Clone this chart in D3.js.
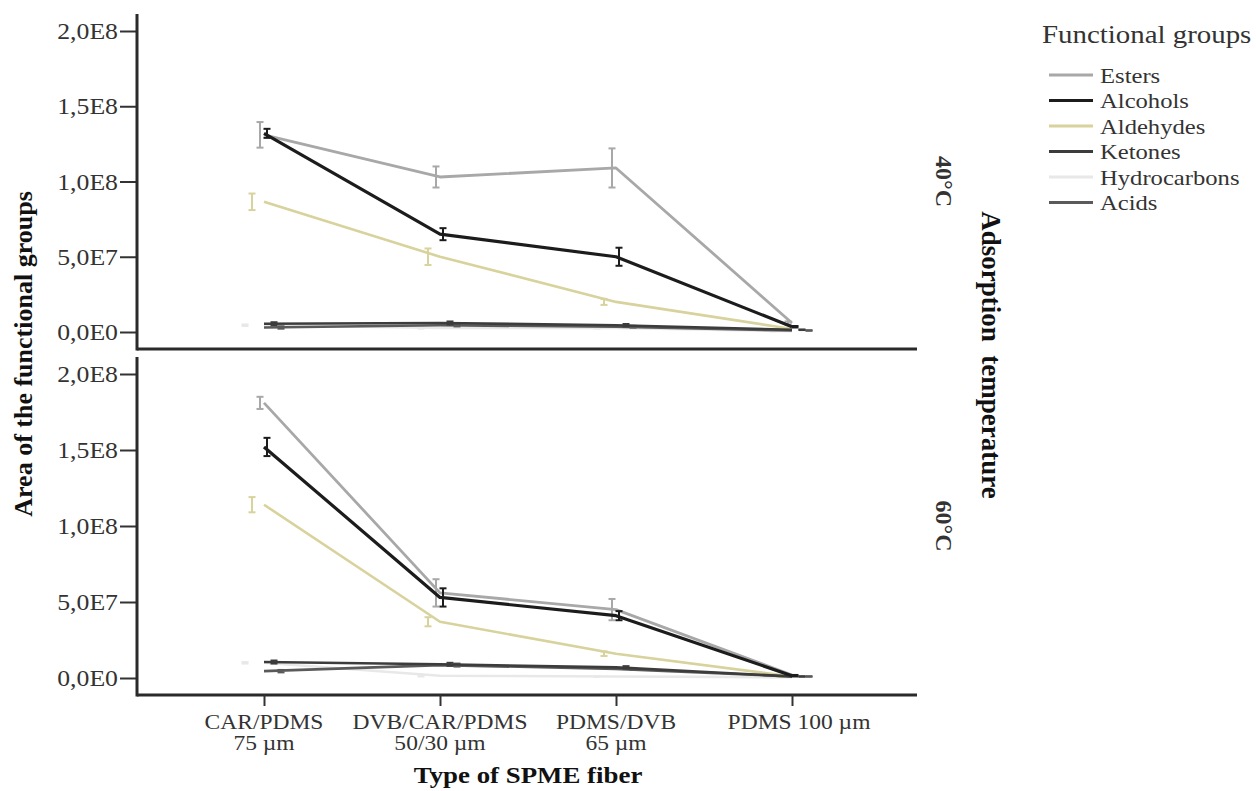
<!DOCTYPE html>
<html>
<head>
<meta charset="utf-8">
<script src="https://cdn.jsdelivr.net/npm/d3@7"></script>
<style>
  body { margin: 0; background: #fff; }
  text { font-family: "Liberation Serif", "Times New Roman", serif; fill: #333; }
</style>
</head>
<body>
<svg width="1256" height="791"></svg>
<script>
// fibers on the x axis (two lines each)
const fibers     = ["CAR/PDMS", "DVB/CAR/PDMS", "PDMS/DVB", "PDMS 100 µm"];
const fiberSub   = ["75 µm", "50/30 µm", "65 µm", ""];
const yTicks     = [0, 5e7, 1e8, 1.5e8, 2e8];
const yTickText  = ["0,0E0", "5,0E7", "1,0E8", "1,5E8", "2,0E8"];
const panels     = ["40°C", "60°C"];
const groups     = ["Esters", "Alcohols", "Aldehydes", "Ketones", "Hydrocarbons", "Acids"];
const colors     = ["#a8a8a8", "#1c1c1c", "#d8d29c", "#3c3c3c", "#e8e8e8", "#5a5a5a"];
const widths     = [2.8, 3.2, 2.6, 2.6, 2.6, 2.6];
const dodge      = [-4, 3, -12, 10, -19, 17];

// 40°C  (mean areas per fiber)
const esters40   = [1.31e8, 1.03e8, 1.09e8, 0.6e7];
const alcohols40 = [1.32e8, 0.65e8, 0.50e8, 0.35e7];
const aldehyd40  = [0.865e8, 0.50e8, 0.20e8, 0.2e7];
const ketones40  = [0.55e7, 0.6e7, 0.45e7, 0.15e7];
const hydroc40   = [0.45e7, 0.27e7, 0.27e7, 0.05e7];
const acids40    = [0.3e7, 0.45e7, 0.35e7, 0.1e7];
// 40°C error (+/-)
const estersE40   = [0.85e7, 0.7e7, 1.3e7, 0.1e7];
const alcoholsE40 = [0.3e7, 0.4e7, 0.6e7, 0.05e7];
const aldehydE40  = [0.55e7, 0.55e7, 0.2e7, 0.03e7];
const ketonesE40  = [0.1e7, 0.1e7, 0.08e7, 0.02e7];
const hydrocE40   = [0.05e7, 0.05e7, 0.05e7, 0.01e7];
const acidsE40    = [0.08e7, 0.08e7, 0.06e7, 0.02e7];

// 60°C
const esters60   = [1.81e8, 0.56e8, 0.45e8, 0.2e7];
const alcohols60 = [1.52e8, 0.53e8, 0.41e8, 0.15e7];
const aldehyd60  = [1.14e8, 0.37e8, 0.16e8, 0.1e7];
const ketones60  = [1.05e7, 0.9e7, 0.7e7, 0.1e7];
const hydroc60   = [1.0e7, 0.15e7, 0.1e7, 0.05e7];
const acids60    = [0.45e7, 0.85e7, 0.6e7, 0.1e7];
const estersE60   = [0.4e7, 0.9e7, 0.7e7, 0.05e7];
const alcoholsE60 = [0.6e7, 0.6e7, 0.3e7, 0.05e7];
const aldehydE60  = [0.5e7, 0.3e7, 0.15e7, 0.02e7];
const ketonesE60  = [0.1e7, 0.1e7, 0.08e7, 0.02e7];
const hydrocE60   = [0.05e7, 0.05e7, 0.03e7, 0.01e7];
const acidsE60    = [0.08e7, 0.1e7, 0.06e7, 0.02e7];

const means  = [[esters40, alcohols40, aldehyd40, ketones40, hydroc40, acids40],
                [esters60, alcohols60, aldehyd60, ketones60, hydroc60, acids60]];
const errors = [[estersE40, alcoholsE40, aldehydE40, ketonesE40, hydrocE40, acidsE40],
                [estersE60, alcoholsE60, aldehydE60, ketonesE60, hydrocE60, acidsE60]];

const svg   = d3.select("svg"),
      left  = 137,
      right = 917,
      SX    = 1.12,          // the original is a little stretched sideways
      frames = [{top: 14, bottom: 349}, {top: 357, bottom: 695}];

const x = d3.scalePoint().domain(fibers).range([264, 792]);

// drawing order: light ones first, dark ones on top
const order = [4, 2, 0, 5, 3, 1];

frames.forEach((f, p) => {
  const y = d3.scaleLinear().domain([0, 2e8]).range([f.bottom - 17, f.top + 17]);
  const g = svg.append("g");

  g.append("g")
      .attr("transform", `translate(${left},0)`)
      .call(d3.axisLeft(y).tickValues(yTicks).tickSize(17)
              .tickFormat((d, i) => yTickText[i]))
      .call(a => a.select(".domain").remove())
      .call(a => a.selectAll(".tick line").attr("stroke", "#333").attr("stroke-width", 2))
      .call(a => a.selectAll(".tick text").remove());

  yTicks.forEach((v, i) => {
    g.append("text")
      .attr("transform", `translate(118,${y(v)}) scale(${SX},1)`)
      .attr("text-anchor", "end")
      .attr("dy", "0.35em")
      .style("font-size", "23px")
      .text(yTickText[i]);
  });

  // frame lines
  g.append("line").attr("x1", left).attr("x2", left).attr("y1", f.top).attr("y2", f.bottom + 1.5)
    .attr("stroke", "#2a2a2a").attr("stroke-width", 3);
  g.append("line").attr("x1", left).attr("x2", right).attr("y1", f.bottom).attr("y2", f.bottom)
    .attr("stroke", "#2a2a2a").attr("stroke-width", 3);

  const line = d3.line().x((d, i) => x(fibers[i])).y(d => y(d));

  order.forEach(s => {
    const vals = means[p][s], errs = errors[p][s];
    g.append("path")
      .datum(vals)
      .attr("fill", "none")
      .attr("stroke", colors[s])
      .attr("stroke-width", widths[s])
      .attr("stroke-linejoin", "round")
      .attr("d", line);

    const eb = g.append("g").attr("stroke", colors[s]).attr("stroke-width", 2);
    vals.forEach((v, i) => {
      const cx = x(fibers[i]) + dodge[s];
      const y1 = y(v + errs[i]), y2 = y(v - errs[i]);
      eb.append("line").attr("x1", cx).attr("x2", cx).attr("y1", y1).attr("y2", y2);
      eb.append("line").attr("x1", cx - 3.5).attr("x2", cx + 3.5).attr("y1", y1).attr("y2", y1);
      eb.append("line").attr("x1", cx - 3.5).attr("x2", cx + 3.5).attr("y1", y2).attr("y2", y2);
    });
  });

  // panel label on the right
  svg.append("text")
    .attr("transform", `translate(936,${(f.top + f.bottom) / 2}) rotate(90)`)
    .attr("text-anchor", "middle")
    .style("font-size", "24px")
    .style("font-weight", "bold")
    .text(panels[p]);

  if (p === 1) {
    svg.append("g")
      .attr("transform", `translate(0,${f.bottom})`)
      .call(d3.axisBottom(x).tickSize(11).tickFormat(""))
      .call(a => a.select(".domain").remove())
      .call(a => a.selectAll(".tick line").attr("stroke", "#333").attr("stroke-width", 2));

    fibers.forEach((c, i) => {
      svg.append("text")
        .attr("transform", `translate(${x(c) + (fiberSub[i] ? 0 : 7)},729) scale(${SX},1)`)
        .attr("text-anchor", "middle")
        .style("font-size", "21px")
        .text(c);
      svg.append("text")
        .attr("transform", `translate(${x(c)},750) scale(${SX},1)`)
        .attr("text-anchor", "middle")
        .style("font-size", "21px")
        .text(fiberSub[i]);
    });
  }
});

// axis titles
svg.append("text")
  .attr("transform", `translate(528,783) scale(${SX},1)`)
  .attr("text-anchor", "middle")
  .style("font-size", "24px")
  .style("font-weight", "bold")
  .style("fill", "#111")
  .text("Type of SPME fiber");

svg.append("text")
  .attr("transform", "translate(32,354) rotate(-90)")
  .attr("text-anchor", "middle")
  .style("font-size", "26px")
  .style("font-weight", "bold")
  .style("fill", "#111")
  .text("Area of the functional groups");

svg.append("text")
  .attr("transform", "translate(982,355) rotate(90)")
  .attr("text-anchor", "middle")
  .style("font-size", "27px")
  .style("font-weight", "bold")
  .style("fill", "#111")
  .attr("xml:space", "preserve")
  .text("Adsorption  temperature");

// legend
const lg = svg.append("g");
lg.append("text")
  .attr("transform", `translate(1042,43) scale(${SX},1)`)
  .style("font-size", "25.8px")
  .text("Functional groups");

groups.forEach((name, i) => {
  const yy = 75 + i * 25.5;
  lg.append("line")
    .attr("x1", 1049).attr("x2", 1093).attr("y1", yy).attr("y2", yy)
    .attr("stroke", colors[i]).attr("stroke-width", 3);
  lg.append("text")
    .attr("transform", `translate(1100,${yy}) scale(${SX},1)`)
    .attr("dy", "0.35em")
    .style("font-size", "22px")
    .text(name);
});
</script>
</body>
</html>
